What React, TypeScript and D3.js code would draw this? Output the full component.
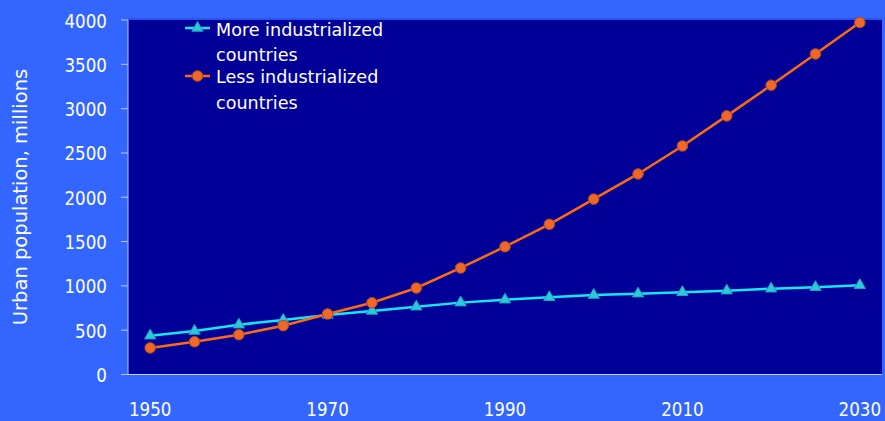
import * as d3 from 'd3';

const YEARS = [1950, 1955, 1960, 1965, 1970, 1975, 1980, 1985, 1990, 1995, 2000, 2005, 2010, 2015, 2020, 2025, 2030];
const MORE_INDUSTRIALIZED = [438, 491, 562, 615, 672, 717, 765, 811, 844, 871, 897, 912, 928, 946, 968, 984, 1007];
const LESS_INDUSTRIALIZED = [300, 370, 449, 551, 683, 810, 976, 1202, 1442, 1695, 1979, 2263, 2579, 2918, 3264, 3617, 3971];
const X_TICKS = [1950, 1970, 1990, 2010, 2030];
const Y_TICKS = [0, 500, 1000, 1500, 2000, 2500, 3000, 3500, 4000];

const W = 885;
const H = 421;
const plot = { left: 128, right: 882, top: 20, bottom: 374.5 };
const FONT = '"DejaVu Sans", Verdana, sans-serif';

const CYAN = '#14E8F2';
const ORANGE = '#FF6A10';

// narrow the DejaVu glyphs a bit so they read more like Tahoma
function Label({ x, y, anchor = 'start', size, sx, children }: {
  x: number; y: number; anchor?: string; size: number; sx: number; children: any;
}) {
  return (
    <text transform={`translate(${x},${y}) scale(${sx},1)`} textAnchor={anchor} fill="white" fontSize={size}>
      {children}
    </text>
  );
}

export default function App() {
  const x = d3.scalePoint<number>()
    .domain(YEARS)
    .range([plot.left, plot.right])
    .padding(0.5);

  const y = d3.scaleLinear()
    .domain([0, 4000])
    .range([plot.bottom, plot.top]);

  const line = d3.line<number>()
    .x((_, i) => x(YEARS[i]) ?? 0)
    .y(d => y(d));

  const tri = d3.symbol().type(d3.symbolTriangle).size(55)() ?? '';

  return (
    <svg width={W} height={H} style={{ position: 'absolute', left: 0, top: 0 }} fontFamily={FONT}>
      <rect x={0} y={0} width={W} height={H} fill="#3366FF" />
      <rect x={plot.left} y={plot.top} width={plot.right - plot.left} height={plot.bottom - plot.top} fill="#000099" />
      <line x1={plot.left} x2={plot.right} y1={plot.top - 1} y2={plot.top - 1} stroke="#2a55e8" strokeWidth={2} />

      {/* axes */}
      <line x1={plot.left} x2={plot.left} y1={plot.top} y2={plot.bottom} stroke="#b8c4ff" strokeWidth={1} />
      <line x1={plot.left} x2={plot.right} y1={plot.bottom} y2={plot.bottom} stroke="#c8d0ff" strokeWidth={1.2} />

      {Y_TICKS.map(t => (
        <g key={t}>
          <line x1={plot.left - 7} x2={plot.left} y1={y(t)} y2={y(t)} stroke="#b8c4ff" />
          <Label x={107} y={y(t) + 7.5} anchor="end" size={19} sx={0.88}>{t}</Label>
        </g>
      ))}

      {X_TICKS.map(t => (
        <Label key={t} x={x(t) ?? 0} y={416} anchor="middle" size={19} sx={0.88}>{t}</Label>
      ))}

      <text transform={`translate(27,197) rotate(-90)`} textAnchor="middle" fill="white" fontSize={19.5}>
        Urban population, millions
      </text>

      {/* series */}
      <path d={line(MORE_INDUSTRIALIZED) ?? ''} fill="none" stroke={CYAN} strokeWidth={2.5} />
      {MORE_INDUSTRIALIZED.map((v, i) => (
        <path key={i} d={tri} transform={`translate(${x(YEARS[i])},${y(v)})`} fill="#2ec8d8" stroke="#1aa0c0" strokeWidth={1} />
      ))}

      <path d={line(LESS_INDUSTRIALIZED) ?? ''} fill="none" stroke={ORANGE} strokeWidth={2.5} />
      {LESS_INDUSTRIALIZED.map((v, i) => (
        <circle key={i} cx={x(YEARS[i])} cy={y(v)} r={5.3} fill="#F06828" stroke="#B04820" strokeWidth={1} />
      ))}

      {/* legend */}
      <line x1={185} x2={210} y1={28} y2={28} stroke={CYAN} strokeWidth={2.5} />
      <path d={tri} transform="translate(197.5,28)" fill="#2ec8d8" stroke="#1aa0c0" strokeWidth={1} />
      <Label x={216} y={35.5} size={18.5} sx={0.95}>More industrialized</Label>
      <Label x={216} y={61} size={18.5} sx={0.95}>countries</Label>

      <line x1={185} x2={210} y1={76} y2={76} stroke={ORANGE} strokeWidth={2.5} />
      <circle cx={197.5} cy={76} r={5.3} fill="#F06828" stroke="#B04820" strokeWidth={1} />
      <Label x={216} y={83} size={18.5} sx={0.95}>Less industrialized</Label>
      <Label x={216} y={108.5} size={18.5} sx={0.95}>countries</Label>
    </svg>
  );
}
